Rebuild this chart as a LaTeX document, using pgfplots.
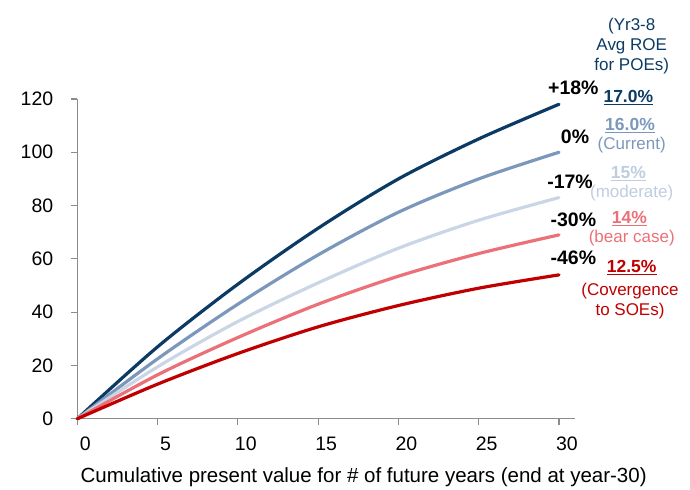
\documentclass[border=0pt]{standalone}
\usepackage{pgfplots}
\pgfplotsset{compat=1.18}
\usepackage{fontspec}
\setmainfont{Liberation Sans}

\definecolor{cNavy}{HTML}{0B3A64}
\definecolor{cSteel}{HTML}{7B98BC}
\definecolor{cLight}{HTML}{CAD6E6}
\definecolor{cPink}{HTML}{EB7078}
\definecolor{cRed}{HTML}{C00000}
\definecolor{cAxis}{HTML}{8C8C8C}

\newcommand{\fs}[1]{\fontsize{#1bp}{#1bp}\selectfont}

\begin{document}
\begin{tikzpicture}
\begin{axis}[
    name=ax,
    scale only axis,
    width=498bp, height=320bp,
    xmin=0, xmax=31,
    ymin=0, ymax=120,
    axis x line=bottom, axis y line=left,
    axis line style={-, cAxis, line width=1.2bp},
    xtick={0,5,...,30},
    ytick={0,20,...,120},
    tick align=outside,
    major tick length=6bp,
    tick style={cAxis, line width=1.2bp},
    /pgf/number format/assume math mode=true,
    ticklabel style={font=\fs{19.5}},
    xticklabel style={xshift=8bp, yshift=-9bp},
    yticklabel style={xshift=-14.5bp},
    xlabel={Cumulative present value for \# of future years (end at year-30)},
    xlabel style={font=\fs{20.5}, at={(axis description cs:0.5,0)}, anchor=base,
        xshift=37.5bp, yshift=-63.4bp},
    clip=false,
    every axis plot/.append style={smooth, line width=3.2bp, line cap=round},
]
\addplot[cNavy]  coordinates {(0,0) (5,27) (10,50.5) (15,71.5) (20,90) (25,105) (30,118)};
\addplot[cSteel] coordinates {(0,0) (5,22.5) (10,43) (15,61.5) (20,77.5) (25,90) (30,100)};
\addplot[cLight] coordinates {(0,0) (5,19.5) (10,36.5) (15,51) (20,64) (25,74.5) (30,83)};
\addplot[cPink]  coordinates {(0,0) (5,16.5) (10,30.5) (15,43) (20,53.5) (25,62) (30,69)};
\addplot[cRed]   coordinates {(0,0) (5,13) (10,24.5) (15,34.5) (20,42.5) (25,49) (30,54)};
\end{axis}

% header
\node[anchor=base, text=cNavy, font=\fs{17}] at ([shift={(554.7bp,388.2bp)}]ax.south west) {(Yr3-8};
\node[anchor=base, text=cNavy, font=\fs{17}] at ([shift={(554.7bp,368.2bp)}]ax.south west) {Avg ROE};
\node[anchor=base, text=cNavy, font=\fs{17}] at ([shift={(554.7bp,348.2bp)}]ax.south west) {for POEs)};

% change labels
\node[anchor=base, font=\fs{19.5}\bfseries] at ([shift={(496.3bp,324bp)}]ax.south west) {+18\%};
\node[anchor=base, font=\fs{19.5}\bfseries] at ([shift={(498bp,275.6bp)}]ax.south west) {0\%};
\node[anchor=base, font=\fs{19.5}\bfseries] at ([shift={(493bp,230.6bp)}]ax.south west) {-17\%};
\node[anchor=base, font=\fs{19.5}\bfseries] at ([shift={(496.3bp,192.3bp)}]ax.south west) {-30\%};
\node[anchor=base, font=\fs{19.5}\bfseries] at ([shift={(496.3bp,154bp)}]ax.south west) {-46\%};

% ROE labels
\node[anchor=base, text=cNavy, font=\fs{17.5}\bfseries] at ([shift={(551.3bp,316.5bp)}]ax.south west) {\underline{17.0\%}};
\node[anchor=base, text=cSteel, font=\fs{17.5}\bfseries] at ([shift={(553bp,288.2bp)}]ax.south west) {\underline{16.0\%}};
\node[anchor=base, text=cSteel, font=\fs{17}] at ([shift={(554.7bp,269.2bp)}]ax.south west) {(Current)};
\node[anchor=base, text=cLight!85!cSteel, font=\fs{17.5}\bfseries] at ([shift={(551.3bp,240.5bp)}]ax.south west) {\underline{15\%}};
\node[anchor=base, text=cLight!85!cSteel, font=\fs{17}] at ([shift={(554.7bp,221.5bp)}]ax.south west) {(moderate)};
\node[anchor=base, text=cPink, font=\fs{17.5}\bfseries] at ([shift={(552.3bp,194.9bp)}]ax.south west) {\underline{14\%}};
\node[anchor=base, text=cPink, font=\fs{17}] at ([shift={(554.7bp,176.5bp)}]ax.south west) {(bear case)};
\node[anchor=base, text=cRed, font=\fs{17.5}\bfseries] at ([shift={(554.7bp,146.5bp)}]ax.south west) {\underline{12.5\%}};
\node[anchor=base, text=cRed, font=\fs{17}] at ([shift={(553bp,123.2bp)}]ax.south west) {(Covergence};
\node[anchor=base, text=cRed, font=\fs{17}] at ([shift={(553bp,103.2bp)}]ax.south west) {to SOEs)};

\path[use as bounding box] ([shift={(-77.3bp,-68.7bp)}]ax.south west) rectangle ([shift={(115bp,99bp)}]ax.north east);
\end{tikzpicture}
\end{document}
